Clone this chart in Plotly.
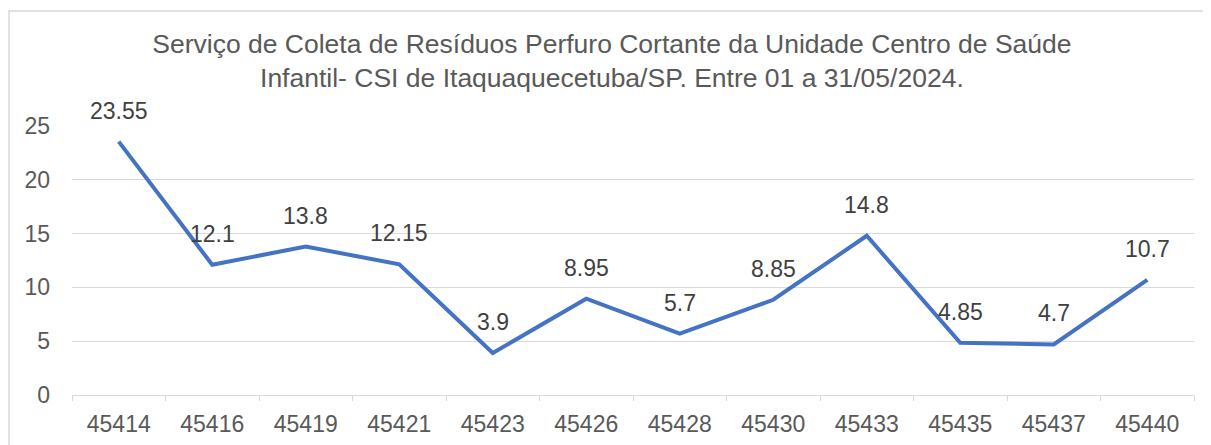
import plotly.graph_objects as go

dias = ["45414", "45416", "45419", "45421", "45423", "45426",
        "45428", "45430", "45433", "45435", "45437", "45440"]
peso = [23.55, 12.1, 13.8, 12.15, 3.9, 8.95, 5.7, 8.85, 14.8, 4.85, 4.7, 10.7]
rotulos = ["23.55", "12.1", "13.8", "12.15", "3.9", "8.95",
           "5.7", "8.85", "14.8", "4.85", "4.7", "10.7"]
y_ticks = [0, 5, 10, 15, 20, 25]

fonte = "Liberation Sans, Arial, sans-serif"
cinza = "#595959"

# a pagina tem 8px de margem no body, por isso 1203x437
W, H = 1203, 437
L, R, T, B = 64, 17, 118, 50
pw, ph = W - L - R, H - T - B

fig = go.Figure()
fig.add_trace(go.Scatter(x=dias, y=peso, mode="lines",
                         line=dict(color="#4472C4", width=4),
                         hoverinfo="x+y"))

# em eixo de categoria, a anotacao usa o indice da categoria
notas = []
for i, (v, t) in enumerate(zip(peso, rotulos)):
    notas.append(dict(x=i, y=v, text=t, showarrow=False, yshift=31,
                      font=dict(family=fonte, size=23, color="#404040")))
fig.update_layout(annotations=notas)

fig.update_layout(
    width=W, height=H,
    margin=dict(l=L, r=R, t=T, b=B),
    paper_bgcolor="white", plot_bgcolor="white",
    showlegend=False,
    title=dict(text="Serviço de Coleta de Resíduos Perfuro Cortante da Unidade Centro de Saúde<br>"
                    "Infantil- CSI de Itaquaquecetuba/SP. Entre 01 a 31/05/2024.",
               x=0.502, xanchor="center", y=0.898, yanchor="top",
               font=dict(family=fonte, size=26.5, color=cinza)),
    font=dict(family=fonte, color=cinza),
    xaxis=dict(type="category", range=[-0.5, len(dias) - 0.5], automargin=False,
               tickangle=0,
               showgrid=False, showline=True, linecolor="#d9d9d9",
               linewidth=1, ticks="outside", ticklen=5, tickcolor="#d9d9d9",
               tickson="boundaries", ticklabelstandoff=8,
               tickfont=dict(size=23, color=cinza)),
    yaxis=dict(range=[0, 25], tickvals=y_ticks, showgrid=True, gridcolor="#d9d9d9",
               gridwidth=1, zeroline=False, showline=False, ticks="",
               ticklabelstandoff=21, automargin=False,
               tickfont=dict(size=23, color=cinza)),
    shapes=[dict(type="rect", xref="paper", yref="paper",
                 x0=(1 - L) / pw, x1=(1196 - L) / pw,
                 y0=(ph + T - 460) / ph, y1=(ph + T - 3) / ph,
                 line=dict(color="#d9d9d9", width=1.5), fillcolor="rgba(0,0,0,0)",
                 layer="below")],
)

fig.write_html("out.html")
